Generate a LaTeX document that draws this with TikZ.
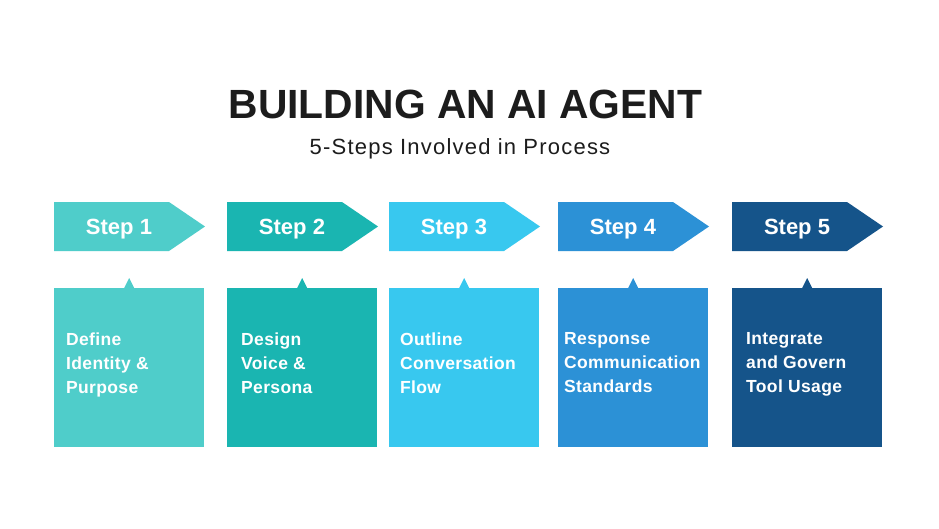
\documentclass[tikz,border=0pt]{standalone}
\usepackage{fontspec}
\setmainfont{Liberation Sans}
\newfontfamily\subfont[LetterSpace=5.5]{Liberation Sans}
\newfontfamily\bodyfont[LetterSpace=2]{Liberation Sans}
\definecolor{cA}{HTML}{4FCDCA}
\definecolor{cB}{HTML}{1AB5B1}
\definecolor{cC}{HTML}{38C8EF}
\definecolor{cD}{HTML}{2C91D6}
\definecolor{cE}{HTML}{15548A}
\definecolor{titlec}{HTML}{1C1C1C}
\tikzset{
  steptext/.style={text=white,font=\fontsize{22}{26}\selectfont\bfseries,inner sep=0pt,anchor=base},
  infobox/.style={minimum width=150pt,minimum height=159pt,inner sep=0pt,draw=none,anchor=north west},
  infotext/.style={text=white,font=\bodyfont\fontsize{17.5}{24}\selectfont\bfseries,align=left,inner sep=0pt,anchor=north west},
}
\newcommand{\stepitem}[6]{%
  % #1 name, #2 left x, #3 colour, #4 label, #5 body, #6 text offset
  \fill[#3] (#2,202) -- ++(115,0) -- ++(36,24.5) -- ++(-36,24.5) -- ++(-115,0) -- cycle;
  \node[steptext] (#1s) at (#2+65,234) {#4};
  \node[infobox,fill=#3] (#1b) at (#2,288) {};
  \fill[#3] ([xshift=-5pt]#1b.north) -- ++(5,-10) -- ++(5,10) -- cycle;
  \node[infotext] (#1t) at (#2+#6,332.5) {#5};
}
\begin{document}
\begin{tikzpicture}[x=1pt,y=-1pt]
\useasboundingbox (0,0) rectangle (939,528);
\fill[white] (0,0) rectangle (939,528);
\node[text=titlec,font=\fontsize{40.8}{46}\selectfont\bfseries,anchor=base] (title) at (465.5,118) {BUILDING AN AI AGENT};
\node[text=titlec,font=\subfont\fontsize{22}{26}\selectfont,anchor=base] (sub) at (460,154) {5-Steps Involved in Process};
\stepitem{one}{54}{cA}{Step 1}{Define\\Identity \&\\Purpose}{12}
\stepitem{two}{227}{cB}{Step 2}{Design\\Voice \&\\Persona}{14}
\stepitem{three}{389}{cC}{Step 3}{Outline\\Conversation\\Flow}{11}
\stepitem{four}{558}{cD}{Step 4}{Response\\Communication\\Standards}{6}
\stepitem{five}{732}{cE}{Step 5}{Integrate\\and Govern\\Tool Usage}{14}
\end{tikzpicture}
\end{document}
